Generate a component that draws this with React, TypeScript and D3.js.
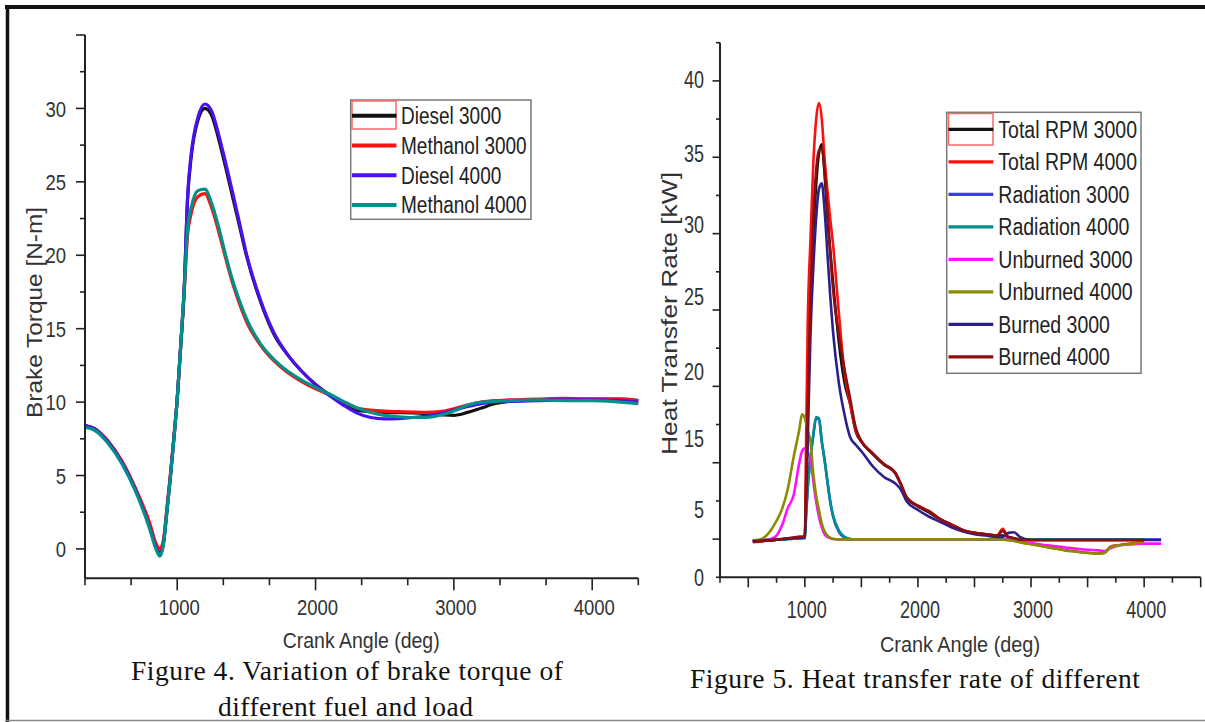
import React from 'react';
import * as d3 from 'd3';

// ---------- Figure 4: brake torque ----------
const torqueAngles = [333, 400, 500, 600, 700, 800, 850, 875, 900, 925, 950, 975, 1000, 1025, 1050, 1075, 1100, 1150, 1200, 1250, 1300, 1350, 1400, 1450, 1500, 1600, 1700, 1800, 1900, 2000, 2100, 2200, 2300, 2400, 2500, 2600, 2700, 2800, 2900, 3000, 3100, 3200, 3300, 3400, 3600, 3800, 4000, 4200, 4333];
const diesel3000 = [8.4, 8.2, 7.3, 5.9, 4.0, 1.6, 0.1, -0.3, 0.4, 2.6, 4.9, 7.5, 10.2, 13.8, 17.6, 23.8, 26.6, 29.2, 30.0, 29.5, 27.9, 26.0, 24.0, 22.0, 20.0, 16.9, 14.6, 13.2, 12.1, 11.2, 10.5, 9.85, 9.45, 9.35, 9.3, 9.28, 9.26, 9.22, 9.15, 9.1, 9.3, 9.6, 9.9, 10.05, 10.15, 10.2, 10.2, 10.2, 10.1];
const methanol3000 = [8.4, 8.2, 7.35, 6.0, 4.1, 1.8, 0.3, 0.0, 0.6, 2.7, 5.0, 7.5, 10.2, 13.8, 17.4, 21.4, 22.8, 24.0, 24.2, 23.2, 21.6, 19.8, 18.1, 16.7, 15.5, 13.9, 12.8, 12.0, 11.4, 10.9, 10.5, 10.0, 9.6, 9.45, 9.38, 9.35, 9.32, 9.3, 9.35, 9.55, 9.8, 10.0, 10.1, 10.15, 10.2, 10.25, 10.2, 10.2, 10.1];
const diesel4000 = [8.4, 8.2, 7.3, 5.9, 4.0, 1.5, 0.0, -0.4, 0.3, 2.5, 4.8, 7.4, 10.2, 13.8, 17.6, 24.0, 26.8, 29.4, 30.3, 29.8, 28.2, 26.3, 24.3, 22.2, 20.1, 17.0, 14.7, 13.2, 12.1, 11.2, 10.45, 9.8, 9.25, 8.95, 8.86, 8.88, 8.95, 9.05, 9.2, 9.45, 9.7, 9.9, 10.0, 10.05, 10.1, 10.15, 10.15, 10.1, 10.0];
const methanol4000 = [8.3, 8.1, 7.2, 5.8, 3.9, 1.4, -0.1, -0.5, 0.3, 2.5, 4.8, 7.4, 10.2, 13.8, 17.6, 21.8, 23.2, 24.4, 24.5, 23.5, 21.9, 20.0, 18.3, 16.9, 15.7, 14.0, 12.9, 12.1, 11.5, 11.0, 10.55, 10.05, 9.6, 9.3, 9.1, 9.0, 8.95, 8.95, 9.1, 9.4, 9.8, 10.0, 10.05, 10.1, 10.15, 10.1, 10.1, 10.0, 9.9];
const torqueSeriesNames = ['Diesel 3000', 'Methanol 3000', 'Diesel 4000', 'Methanol 4000'];
const torqueXTickLabels = [1000, 2000, 3000, 4000];
const torqueYTickLabels = [0, 5, 10, 15, 20, 25, 30];

// ---------- Figure 5: heat transfer rate ----------
const heatAngles = [540, 600, 700, 750, 800, 850, 900, 950, 975, 1000, 1010, 1025, 1050, 1075, 1100, 1125, 1150, 1175, 1200, 1225, 1250, 1300, 1350, 1400, 1450, 1500, 1600, 1700, 1800, 1850, 1900, 2000, 2100, 2200, 2300, 2400, 2500, 2600, 2700, 2750, 2800, 2850, 2900, 3000, 3100, 3200, 3300, 3400, 3500, 3600, 3650, 3700, 3750, 3800, 3900, 4000, 4150];
const totalRpm3000 = [2.7, 2.72, 2.76, 2.8, 2.83, 2.86, 2.9, 2.93, 2.95, 2.97, 7.0, 16.5, 24.5, 29.5, 32.8, 35.0, 35.6, 33.5, 30.5, 28.2, 26.0, 22.0, 19.2, 17.6, 15.5, 14.5, 12.8, 11.3, 10.1, 8.5, 6.7, 5.5, 4.8, 4.3, 3.9, 3.5, 3.3, 3.2, 3.1, 3.1, 3.0, 2.9, 2.8, 2.77, 2.77, 2.77, 2.77, 2.77, 2.77, 2.77, 2.77, 2.77, 2.77, 2.77, 2.77, 2.77, null];
const totalRpm4000 = [2.6, 2.65, 2.75, 2.8, 2.85, 2.9, 2.95, 3.0, 3.0, 3.05, 13.0, 23.0, 29.0, 34.3, 37.3, 38.4, 37.3, 34.6, 32.4, 30.4, 28.6, 24.0, 20.0, 17.6, 15.6, 14.6, 12.9, 11.4, 10.2, 8.6, 6.8, 5.6, 4.9, 4.3, 3.9, 3.5, 3.3, 3.2, 3.1, 3.6, 2.9, 2.75, 2.62, 2.47, 2.32, 2.17, 2.02, 1.92, 1.82, 1.77, 1.82, 2.27, 2.37, 2.42, 2.52, 2.62, null];
const radiation3000 = [2.7, 2.72, 2.76, 2.8, 2.82, 2.84, 2.86, 2.88, 2.9, 2.9, 4.4, 7.9, 12.2, 15.2, 16.5, 16.4, 14.5, 11.9, 8.9, 6.1, 4.5, 3.4, 2.95, 2.85, 2.8, 2.8, 2.8, 2.8, 2.8, 2.8, 2.8, 2.8, 2.8, 2.8, 2.8, 2.8, 2.8, 2.8, 2.8, 2.8, 2.8, 2.8, 2.8, 2.8, 2.8, 2.8, 2.8, 2.8, 2.8, 2.8, 2.8, 2.8, 2.8, 2.8, 2.8, 2.8, 2.8];
const radiation4000 = [2.72, 2.74, 2.78, 2.8, 2.82, 2.84, 2.86, 2.88, 2.9, 2.9, 4.5, 8.0, 12.3, 15.3, 16.6, 16.5, 14.6, 12.0, 9.0, 6.2, 4.6, 3.5, 3.0, 2.85, 2.82, 2.82, 2.82, 2.82, 2.82, 2.82, 2.82, 2.82, 2.82, 2.82, 2.82, 2.82, 2.82, 2.82, 2.82, 2.82, 2.82, 2.82, 2.82, 2.82, 2.82, 2.82, 2.82, 2.82, 2.82, 2.82, 2.82, 2.82, 2.82, 2.82, 2.82, 2.82, null];
const unburned3000 = [2.7, 2.75, 2.85, 3.1, 3.9, 5.3, 7.0, 11.5, 13.2, 13.6, 13.4, 12.9, 12.3, 9.0, 6.2, 4.5, 3.7, 3.2, 3.0, 2.9, 2.85, 2.82, 2.82, 2.82, 2.82, 2.82, 2.82, 2.82, 2.82, 2.82, 2.82, 2.82, 2.82, 2.82, 2.82, 2.82, 2.82, 2.82, 2.82, 2.8, 2.78, 2.72, 2.66, 2.55, 2.42, 2.32, 2.22, 2.12, 2.05, 2.0, 1.95, 2.15, 2.3, 2.4, 2.45, 2.5, 2.5];
const unburned4000 = [2.75, 2.8, 3.5, 4.2, 5.2, 8.0, 12.3, 15.6, 16.8, 16.5, 16.2, 15.6, 14.5, 10.1, 7.0, 5.0, 4.0, 3.4, 3.1, 2.95, 2.85, 2.82, 2.82, 2.82, 2.82, 2.82, 2.82, 2.82, 2.82, 2.82, 2.82, 2.82, 2.82, 2.82, 2.82, 2.82, 2.82, 2.82, 2.82, 2.8, 2.75, 2.7, 2.6, 2.45, 2.3, 2.15, 2.0, 1.9, 1.8, 1.75, 1.8, 2.25, 2.35, 2.4, 2.5, 2.6, null];
const burned3000 = [2.7, 2.72, 2.76, 2.8, 2.83, 2.86, 2.9, 2.93, 2.95, 2.97, 5.5, 14.0, 22.5, 27.0, 30.5, 32.5, 32.9, 31.0, 28.0, 25.0, 22.6, 19.2, 16.8, 15.1, 14.1, 13.2, 11.1, 9.6, 8.7, 7.8, 6.2, 5.0, 4.5, 4.1, 3.7, 3.4, 3.2, 3.1, 3.0, 3.0, 3.3, 3.35, 3.0, 2.77, 2.77, 2.77, 2.77, 2.77, 2.77, 2.77, 2.77, 2.77, 2.77, 2.77, 2.77, 2.77, 2.77];
const burned4000 = [2.65, 2.68, 2.75, 2.8, 2.85, 2.9, 2.95, 3.0, 3.0, 3.05, 8.0, 17.0, 25.0, 30.5, 33.8, 35.2, 35.3, 33.8, 31.0, 28.0, 25.5, 22.5, 20.2, 18.0, 15.8, 14.6, 12.9, 11.4, 10.2, 8.6, 6.8, 5.6, 4.9, 4.3, 3.9, 3.5, 3.3, 3.2, 3.1, 3.45, 3.0, 2.9, 2.8, 2.77, 2.77, 2.77, 2.77, 2.77, 2.77, 2.77, 2.77, 2.77, 2.77, 2.77, 2.77, 2.77, null];
const heatSeriesNames = ['Total RPM 3000', 'Total RPM 4000', 'Radiation 3000', 'Radiation 4000', 'Unburned 3000', 'Unburned 4000', 'Burned 3000', 'Burned 4000'];
const heatXTickLabels = [1000, 2000, 3000, 4000];
const heatYTickLabels = [0, 5, 15, 20, 25, 30, 35, 40];

const SANS = 'Liberation Sans, Arial, Helvetica, sans-serif';
const SERIF = 'Liberation Serif, Times New Roman, Times, serif';
const INK = '#333';

type Pt = [number, number | null];

function zip(xs: number[], ys: (number | null)[]): Pt[] {
  return xs.map((x, i) => [x, ys[i]] as Pt);
}

function STxt(props: { x: number; y: number; size: number; sy?: number; anchor?: string; fill?: string; children: any }) {
  const { x, y, size, sy = 1.22, anchor = 'start', fill = INK, children } = props;
  return (
    <text
      transform={`translate(${x},${y}) scale(1,${sy})`}
      fontFamily={SANS}
      fontSize={size}
      textAnchor={anchor as any}
      dominantBaseline="central"
      fill={fill}
    >
      {children}
    </text>
  );
}

export default function App() {
  // ----- torque scales -----
  const tx = d3.scaleLinear().domain([1000 / 3, 13000 / 3]).range([85, 638.3]);
  const ty = d3.scaleLinear().domain([-2, 35]).range([578.3, 35]);
  const torqueLine = d3
    .line<Pt>()
    .defined((d) => d[1] != null)
    .x((d) => tx(d[0]))
    .y((d) => ty(d[1] as number))
    .curve(d3.curveMonotoneX);
  const torqueSeries = [diesel3000, methanol3000, diesel4000, methanol4000];
  const torqueColors = ['#111111', '#ff1010', '#4a10f0', '#00908a'];

  const txTicks = d3.range(1, 14).map((k) => ({ v: (k * 1000) / 3, major: k % 3 === 0 }));
  const tyTicks = d3.range(0, 35.01, 2.5).map((v) => ({ v, major: v % 5 === 0 }));

  // ----- heat scales -----
  const hx = d3.scaleLinear().domain([250, 4500]).range([720, 1200.7]);
  // the printed value labels are unevenly spaced on this axis; map values through them
  const hy = d3
    .scaleLinear()
    .domain([0, 5, 15, 20, 25, 30, 35, 40, 42.5])
    .range([577.3, 510, 438.3, 371.7, 296.7, 225, 153.3, 79.3, 42.7]);
  // tick marks are evenly spaced along the axis
  const hyTick = d3.scaleLinear().domain([7.5, 42.5]).range([577.3, 42.7]);
  const heatLine = d3
    .line<Pt>()
    .defined((d) => d[1] != null)
    .x((d) => hx(d[0]))
    .y((d) => hy(d[1] as number))
    .curve(d3.curveMonotoneX);
  const heatSeries = [totalRpm3000, totalRpm4000, radiation3000, radiation4000, unburned3000, unburned4000, burned3000, burned4000];
  const heatColors = ['#111111', '#ff1010', '#3a3af5', '#00908a', '#ff10ff', '#8a8c00', '#2a1f8c', '#8c0f0f'];

  const hxTicks = d3.range(250, 4500.1, 250).map((v) => ({ v, major: v % 500 === 0 }));
  const hyTicks = d3.range(7.5, 42.51, 2.5).map((v) => ({ v, major: v % 5 === 0 }));

  // legend geometry
  const tLeg = { x: 350.7, y: 100, w: 180.3, h: 119.3, row0: 115.7, step: 29.8 };
  const hLeg = { x: 946.7, y: 112.3, w: 194.3, h: 261, row0: 129.3, step: 32.5 };

  return (
    <svg width={1205} height={722} style={{ position: 'absolute', left: 0, top: 0, background: '#fff' }}>
      <rect x={0} y={0} width={1205} height={722} fill="#fff" />

      {/* page frame */}
      <line x1={5} x2={1205} y1={7} y2={7} stroke="#111" strokeWidth={4} />
      <line x1={7.5} x2={7.5} y1={5} y2={722} stroke="#111" strokeWidth={3.5} />
      <line x1={5} x2={1205} y1={720.5} y2={720.5} stroke="#888" strokeWidth={1.5} />

      {/* ===== Figure 4 ===== */}
      <g>
        {torqueSeries.map((s, i) => (
          <path key={i} d={torqueLine(zip(torqueAngles, s)) || ''} fill="none" stroke={torqueColors[i]} strokeWidth={3.2} strokeLinejoin="round" />
        ))}
        {/* axes */}
        <line x1={85} x2={85} y1={35} y2={578.3} stroke="#222" strokeWidth={2} />
        <line x1={85} x2={638.3} y1={578.3} y2={578.3} stroke="#222" strokeWidth={2} />
        {tyTicks.map((t, i) => (
          <line key={i} x1={85 - (t.major ? 9 : 5)} x2={85} y1={ty(t.v)} y2={ty(t.v)} stroke="#222" strokeWidth={1.6} />
        ))}
        {txTicks.map((t, i) => (
          <line key={i} x1={tx(t.v)} x2={tx(t.v)} y1={578.3} y2={578.3 + (t.major ? 12 : 7)} stroke="#222" strokeWidth={1.6} />
        ))}
        {torqueYTickLabels.map((v) => (
          <STxt key={v} x={66} y={ty(v)} size={18.5} anchor="end">{v}</STxt>
        ))}
        {torqueXTickLabels.map((v) => (
          <STxt key={v} x={tx(v) + 2} y={606.7} size={18.5} anchor="middle">{v}</STxt>
        ))}
        <text x={282.7} y={648} fontFamily={SANS} fontSize={22} fill={INK} textLength={157} lengthAdjust="spacingAndGlyphs">Crank Angle (deg)</text>
        <text transform="translate(41.7,418) rotate(-90)" fontFamily={SANS} fontSize={22} fill={INK} textLength={211} lengthAdjust="spacingAndGlyphs">Brake Torque [N-m]</text>

        {/* legend */}
        <rect x={tLeg.x} y={tLeg.y} width={tLeg.w} height={tLeg.h} fill="#fff" stroke="#7a7a7a" strokeWidth={1.5} />
        {torqueSeriesNames.map((n, i) => {
          const yy = tLeg.row0 + i * tLeg.step;
          return (
            <g key={n}>
              {i === 0 && <rect x={352} y={101} width={44} height={28} fill="none" stroke="#ff6666" strokeWidth={1.5} />}
              <line x1={352} x2={396.5} y1={yy} y2={yy} stroke={torqueColors[i]} strokeWidth={4} />
              <STxt x={401} y={yy} size={19} fill="#222">{n}</STxt>
            </g>
          );
        })}

        <text x={131} y={680} fontFamily={SERIF} fontSize={27.5} fill="#111" textLength={432} lengthAdjust="spacing">Figure 4. Variation of brake torque of</text>
        <text x={218} y={716} fontFamily={SERIF} fontSize={27.5} fill="#111" textLength={255} lengthAdjust="spacing">different fuel and load</text>
      </g>

      {/* ===== Figure 5 ===== */}
      <g>
        {heatSeries.map((s, i) => (
          <path key={i} d={heatLine(zip(heatAngles, s)) || ''} fill="none" stroke={heatColors[i]} strokeWidth={2.6} strokeLinejoin="round" />
        ))}
        <line x1={720} x2={720} y1={42.7} y2={577.3} stroke="#222" strokeWidth={2} />
        <line x1={720} x2={1200.7} y1={577.3} y2={577.3} stroke="#222" strokeWidth={2} />
        {hyTicks.map((t, i) => (
          <line key={i} x1={720 - (t.major ? 7.5 : 4)} x2={720} y1={hyTick(t.v)} y2={hyTick(t.v)} stroke="#222" strokeWidth={1.6} />
        ))}
        {hxTicks.map((t, i) => (
          <line key={i} x1={hx(t.v)} x2={hx(t.v)} y1={577.3} y2={577.3 + (t.major ? 10 : 5.5)} stroke="#222" strokeWidth={1.6} />
        ))}
        {heatYTickLabels.map((v) => (
          <STxt key={v} x={704} y={hy(v)} size={18} sy={1.28} anchor="end">{v}</STxt>
        ))}
        {heatXTickLabels.map((v) => (
          <STxt key={v} x={hx(v) + 2} y={610} size={18} sy={1.28} anchor="middle">{v}</STxt>
        ))}
        <text x={880} y={651.7} fontFamily={SANS} fontSize={22} fill={INK} textLength={160} lengthAdjust="spacingAndGlyphs">Crank Angle (deg)</text>
        <text transform="translate(676.7,455) rotate(-90)" fontFamily={SANS} fontSize={22} fill={INK} textLength={283} lengthAdjust="spacingAndGlyphs">Heat Transfer Rate [kW]</text>

        <rect x={hLeg.x} y={hLeg.y} width={hLeg.w} height={hLeg.h} fill="#fff" stroke="#7a7a7a" strokeWidth={1.5} />
        {heatSeriesNames.map((n, i) => {
          const yy = hLeg.row0 + i * hLeg.step;
          return (
            <g key={n}>
              {i === 0 && <rect x={948.5} y={113.5} width={44.5} height={31.5} fill="none" stroke="#ff6666" strokeWidth={1.5} />}
              <line x1={948.5} x2={993.3} y1={yy} y2={yy} stroke={heatColors[i]} strokeWidth={3.2} />
              <STxt x={998.3} y={yy} size={19.5} sy={1.25} fill="#222">{n}</STxt>
            </g>
          );
        })}

        <text x={690} y={688.3} fontFamily={SERIF} fontSize={27.5} fill="#111" textLength={450} lengthAdjust="spacing">Figure 5. Heat transfer rate of different</text>
      </g>
    </svg>
  );
}
